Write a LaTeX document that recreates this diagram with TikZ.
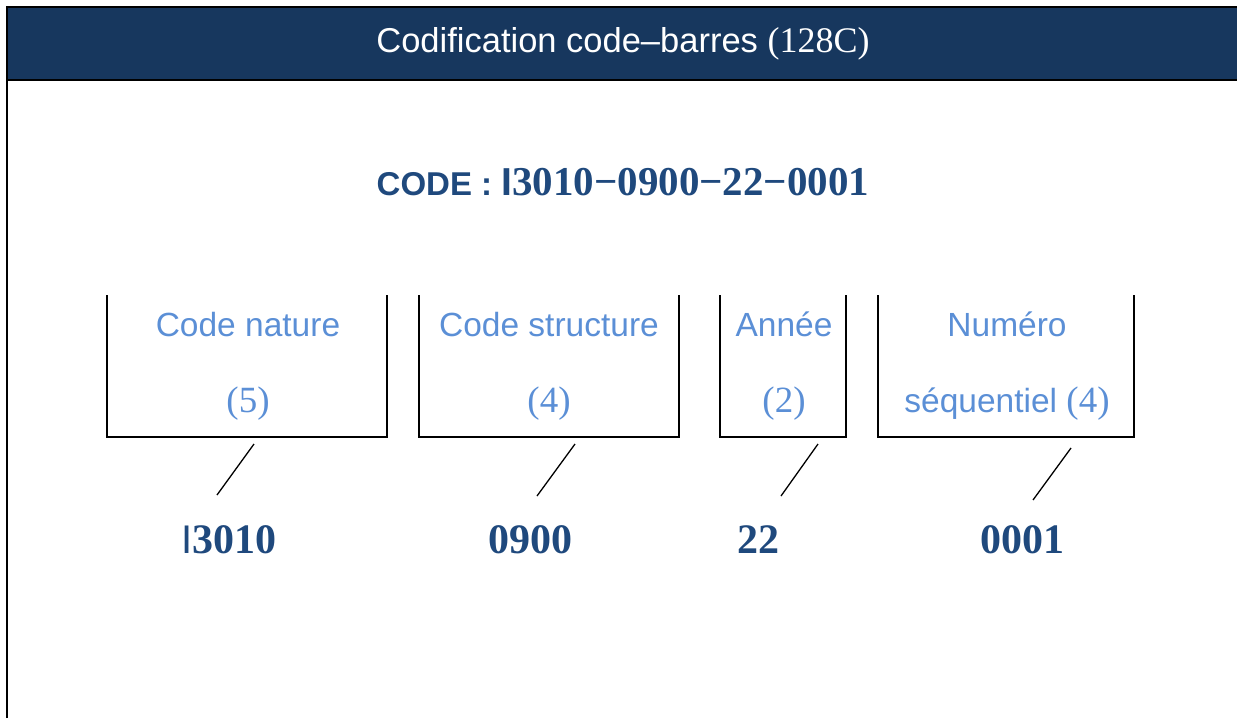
\documentclass[tikz,border=0pt]{standalone}
\usepackage{fontspec}
\setmainfont{Liberation Serif}
\setsansfont{Liberation Sans}
\definecolor{hdr}{HTML}{17375E}
\definecolor{codeblue}{HTML}{1F497D}
\definecolor{lightblue}{HTML}{5B8FD6}
\begin{document}
\begin{tikzpicture}[x=1pt,y=-1pt,
  frame/.style={line width=2pt,black},
  boxn/.style={inner sep=0pt,outer sep=0pt},
  boxline/.style={line width=2pt,black},
  boxtxt/.style={text=lightblue,font=\fontsize{33.5}{38}\selectfont\sffamily,inner sep=0pt,anchor=base},
  numtxt/.style={text=codeblue,font=\fontsize{42}{46}\selectfont\bfseries,inner sep=0pt,anchor=base},
  tick/.style={line width=1.3pt,black}]
\useasboundingbox (0,0) rectangle (1237,718);
% header
\fill[hdr] (7,7) rectangle (1240,80);
\draw[frame] (7,718) -- (7,7) -- (1240,7);
\draw[frame] (7,80) -- (1240,80);
\node[text=white,inner sep=0pt,anchor=base] (title) at (623,52)
  {\fontsize{34.5}{38}\selectfont\sffamily Codification code–barres \rmfamily\fontsize{36}{38}\selectfont(128C)};
% code line
\node[text=codeblue,inner sep=0pt,anchor=base] (code) at (623,195)
  {\fontsize{33}{36}\selectfont\sffamily\bfseries CODE : \fontsize{39}{44}\selectfont I\rmfamily\fontsize{41}{44}\selectfont 3010−0900−22−0001};
% boxes
\node[boxn,minimum width=280pt,minimum height=142pt] (b1) at (247,366) {};
\node[boxn,minimum width=260pt,minimum height=142pt] (b2) at (549,366) {};
\node[boxn,minimum width=126pt,minimum height=142pt] (b3) at (783,366) {};
\node[boxn,minimum width=256pt,minimum height=142pt] (b4) at (1006,366) {};
\foreach \b in {b1,b2,b3,b4}
  \draw[boxline] (\b.north west) -- (\b.south west) -- (\b.south east) -- (\b.north east);
% box texts
\node[boxtxt] (t1a) at (248,336) {Code nature};
\node[boxtxt] (t1b) at (248,412) {\rmfamily\fontsize{37}{40}\selectfont(5)};
\node[boxtxt] (t2a) at (549,336) {Code structure};
\node[boxtxt] (t2b) at (549,412) {\rmfamily\fontsize{37}{40}\selectfont(4)};
\node[boxtxt] (t3a) at (784,336) {Année};
\node[boxtxt] (t3b) at (784,412) {\rmfamily\fontsize{37}{40}\selectfont(2)};
\node[boxtxt] (t4a) at (1007,336) {Numéro};
\node[boxtxt] (t4b) at (1007,412) {séquentiel \rmfamily\fontsize{37}{40}\selectfont(4)};
% bottom numbers
\node[numtxt] (n1) at (229,553) {\sffamily\mdseries\fontsize{40}{44}\selectfont I\rmfamily\bfseries\fontsize{42}{46}\selectfont 3010};
\node[numtxt] (n2) at (530,553) {0900};
\node[numtxt] (n3) at (758,553) {22};
\node[numtxt] (n4) at (1022,553) {0001};
% ticks
\coordinate (c1a) at (254,444); \coordinate (c1b) at (217,495);
\coordinate (c2a) at (575,444); \coordinate (c2b) at (537,496);
\coordinate (c3a) at (818,444); \coordinate (c3b) at (781,496);
\coordinate (c4a) at (1071,448); \coordinate (c4b) at (1033,500);
\draw[tick] (c1a) -- (c1b);
\draw[tick] (c2a) -- (c2b);
\draw[tick] (c3a) -- (c3b);
\draw[tick] (c4a) -- (c4b);
\end{tikzpicture}
\end{document}
